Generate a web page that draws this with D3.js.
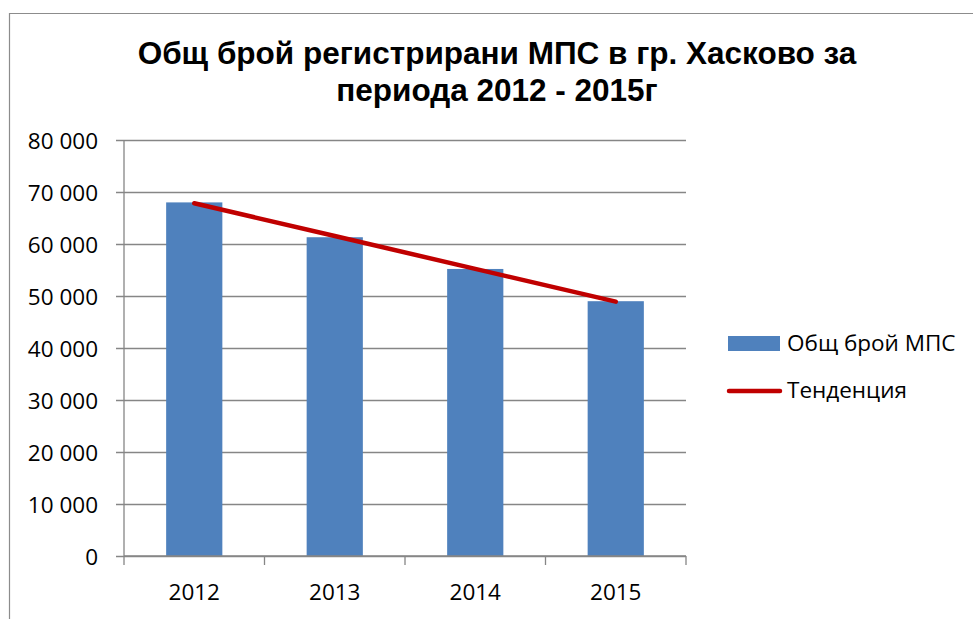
<!DOCTYPE html>
<html>
<head>
<meta charset="utf-8">
<script src="https://cdn.jsdelivr.net/npm/d3@7"></script>
<style>
  body { margin: 0; background: #fff; }
  svg { display: block; }
</style>
</head>
<body>
<svg id="chart"></svg>
<script>
// data
var years = ["2012", "2013", "2014", "2015"];
var totals = [68000, 61300, 55200, 49000];   // Общ брой МПС
var trend = [67840, 61530, 55220, 48910];    // Тенденция (straight line)
var yTicks = [0, 10000, 20000, 30000, 40000, 50000, 60000, 70000, 80000];
var titleLines = ["Общ брой регистрирани МПС в гр. Хасково за", "периода 2012 - 2015г"];
var legendNames = ["Общ брой МПС", "Тенденция"];

var width = 973, height = 619;
var plot = { left: 124, right: 686, top: 140, bottom: 556 };
var gridColor = "#868686";
var barColor = "#4F81BD";
var lineColor = "#C00000";
var labelFont = "'Open Sans', 'Noto Sans', sans-serif";
var labelSize = 22.5;

var svg = d3.select("#chart").attr("width", width).attr("height", height);

// outer frame (only left and top edge visible)
svg.append("path")
  .attr("d", "M9.5," + height + "V13.5H" + width)
  .attr("fill", "none")
  .attr("stroke", "#8c8c8c")
  .attr("stroke-width", 1.2);

// title
svg.append("text")
  .attr("text-anchor", "middle")
  .attr("font-family", "'Liberation Sans', Arial, sans-serif")
  .attr("font-weight", "bold")
  .attr("font-size", 31.5)
  .attr("fill", "#000")
  .selectAll("tspan")
  .data(titleLines)
  .enter().append("tspan")
    .attr("x", 497)
    .attr("y", (d, i) => 64 + i * 37)
    .text(d => d);

var x = d3.scaleBand()
  .domain(years)
  .range([plot.left, plot.right])
  .paddingInner(0.6)
  .paddingOuter(0.3);

var y = d3.scaleLinear()
  .domain([0, 80000])
  .range([plot.bottom, plot.top]);

var fmt = v => d3.format(",")(v).replace(/,/g, " ");

// gridlines + y axis
var yAxis = d3.axisLeft(y)
  .tickValues(yTicks)
  .tickSize(-(plot.right - plot.left))
  .tickPadding(0)
  .tickFormat(fmt);

var gy = svg.append("g")
  .attr("transform", "translate(" + plot.left + ",0)")
  .call(yAxis);
gy.select(".domain").remove();
gy.selectAll(".tick line")
  .attr("x1", -8)
  .attr("stroke", gridColor)
  .attr("stroke-width", 1.3);
gy.selectAll(".tick text")
  .attr("x", -26)
  .attr("dy", "0.36em")
  .attr("font-family", labelFont)
  .attr("font-size", labelSize)
  .attr("fill", "#000");

svg.append("line")
  .attr("x1", plot.left).attr("x2", plot.left)
  .attr("y1", plot.top).attr("y2", plot.bottom)
  .attr("stroke", gridColor).attr("stroke-width", 1.3);

// bars
svg.append("g").selectAll("rect")
  .data(totals)
  .enter().append("rect")
    .attr("x", (d, i) => x(years[i]))
    .attr("y", d => y(d))
    .attr("width", x.bandwidth())
    .attr("height", d => y(0) - y(d))
    .attr("fill", barColor);

// x axis with ticks on category boundaries
var boundaries = d3.range(years.length + 1).map(i => plot.left + i * x.step());
svg.append("line")
  .attr("x1", plot.left).attr("x2", plot.right)
  .attr("y1", plot.bottom).attr("y2", plot.bottom)
  .attr("stroke", gridColor).attr("stroke-width", 1.3);
svg.append("g").selectAll("line")
  .data(boundaries)
  .enter().append("line")
    .attr("x1", d => d).attr("x2", d => d)
    .attr("y1", plot.bottom).attr("y2", plot.bottom + 9)
    .attr("stroke", gridColor).attr("stroke-width", 1.3);
svg.append("g").selectAll("text")
  .data(years)
  .enter().append("text")
    .attr("x", d => x(d) + x.bandwidth() / 2)
    .attr("y", 600)
    .attr("text-anchor", "middle")
    .attr("font-family", labelFont)
    .attr("font-size", labelSize)
    .attr("fill", "#000")
    .text(d => d);

// trend line
var line = d3.line()
  .x((d, i) => x(years[i]) + x.bandwidth() / 2)
  .y(d => y(d));
svg.append("path")
  .datum(trend)
  .attr("d", line)
  .attr("fill", "none")
  .attr("stroke", lineColor)
  .attr("stroke-width", 4.5)
  .attr("stroke-linecap", "round");

// legend
var lg = svg.append("g");
lg.append("rect")
  .attr("x", 728).attr("y", 336)
  .attr("width", 52).attr("height", 15)
  .attr("fill", barColor);
lg.append("line")
  .attr("x1", 729).attr("x2", 780)
  .attr("y1", 391).attr("y2", 391)
  .attr("stroke", lineColor)
  .attr("stroke-width", 4.5)
  .attr("stroke-linecap", "round");
lg.selectAll("text")
  .data(legendNames)
  .enter().append("text")
    .attr("x", 787)
    .attr("y", (d, i) => 351 + i * 47)
    .attr("font-family", labelFont)
    .attr("font-size", labelSize)
    .attr("fill", "#000")
    .text(d => d);
</script>
</body>
</html>
